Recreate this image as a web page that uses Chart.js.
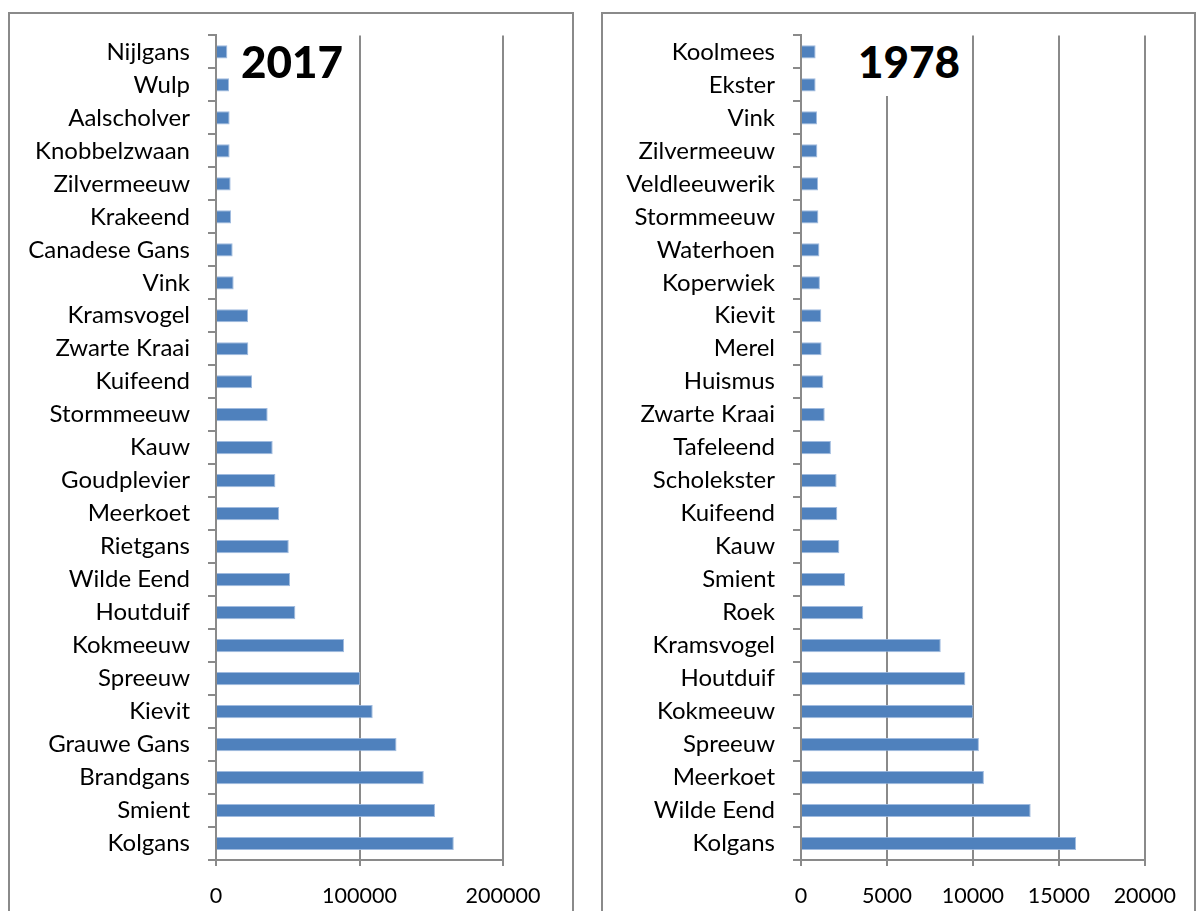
<!DOCTYPE html>
<html>
<head>
<meta charset="utf-8">
<script src="https://cdn.jsdelivr.net/npm/chart.js@4/dist/chart.umd.min.js"></script>
<style>
  html, body { margin: 0; padding: 0; background: #fff; width: 1200px; height: 911px; overflow: hidden; }
  .frame { position: absolute; box-sizing: border-box; border: 2px solid #8a8a8a; background: #fff; }
  canvas { position: absolute; }
  .ttl { position: absolute; font-family: Lato, sans-serif; font-weight: 900; font-size: 44px; line-height: 1; color: #000; white-space: nowrap; }
</style>
</head>
<body>
<div class="frame" style="left:8px; top:12px; width:566px; height:930px;"></div>
<div class="frame" style="left:601px; top:12px; width:595px; height:930px;"></div>
<canvas id="c2017" width="560" height="907" style="left:11px; top:3px;"></canvas>
<canvas id="c1978" width="589" height="907" style="left:604px; top:3px;"></canvas>
<div class="ttl" style="left:241px; top:39px;">2017</div>
<div class="ttl" style="left:846px; top:28px; height:68px; padding:11px 8px 0 12px; box-sizing:border-box; background:#fff;">1978</div>
<script>
// ---- data ----
const labels2017 = ["Nijlgans","Wulp","Aalscholver","Knobbelzwaan","Zilvermeeuw","Krakeend","Canadese Gans","Vink","Kramsvogel","Zwarte Kraai","Kuifeend","Stormmeeuw","Kauw","Goudplevier","Meerkoet","Rietgans","Wilde Eend","Houtduif","Kokmeeuw","Spreeuw","Kievit","Grauwe Gans","Brandgans","Smient","Kolgans"];
const values2017 = [7900,9100,9500,9500,10200,10500,11600,12300,22300,22500,25100,36000,39500,41400,44000,50700,51600,55300,89200,100400,109200,125800,144800,152600,165700];
const ticks2017 = [0, 100000, 200000];

const labels1978 = ["Koolmees","Ekster","Vink","Zilvermeeuw","Veldleeuwerik","Stormmeeuw","Waterhoen","Koperwiek","Kievit","Merel","Huismus","Zwarte Kraai","Tafeleend","Scholekster","Kuifeend","Kauw","Smient","Roek","Kramsvogel","Houtduif","Kokmeeuw","Spreeuw","Meerkoet","Wilde Eend","Kolgans"];
const values1978 = [850,850,930,950,990,1010,1070,1100,1180,1200,1300,1380,1740,2070,2110,2230,2560,3620,8130,9560,10020,10350,10640,13360,16000];
const ticks1978 = [0, 5000, 10000, 15000, 20000];

const YFONT = { family: "Lato, 'DejaVu Sans', sans-serif", size: 24 };
const XFONT = { family: "Lato, 'DejaVu Sans', sans-serif", size: 21.5 };
const GRID = '#8a8a8a';

function makeChart(id, labels, values, tickVals, yWidth, padRight) {
  const step = tickVals[1] - tickVals[0];
  return new Chart(document.getElementById(id), {
    type: 'bar',
    data: {
      labels: labels,
      datasets: [{
        data: values,
        backgroundColor: '#4F81BD',
        borderColor: 'rgba(150,180,220,0.9)',
        borderWidth: 1,
        borderSkipped: 'start',
        barPercentage: 1,
        categoryPercentage: 0.4
      }]
    },
    options: {
      indexAxis: 'y',
      responsive: false,
      animation: false,
      devicePixelRatio: 1,
      layout: { padding: { top: 8, right: padRight, left: 0, bottom: 0 } },
      plugins: { legend: { display: false }, tooltip: { enabled: false }, title: { display: false } },
      scales: {
        x: {
          type: 'linear',
          min: tickVals[0],
          max: tickVals[tickVals.length - 1],
          afterBuildTicks: (s) => { s.ticks = tickVals.map(v => ({ value: v })); },
          ticks: { stepSize: step, color: '#000', font: XFONT, padding: 17, maxRotation: 0, autoSkip: false,
                   callback: (v) => String(v) },
          grid: { color: GRID, lineWidth: 2, tickLength: 6, tickColor: GRID, drawTicks: true },
          border: { display: true, color: GRID, width: 2 },
          afterFit: (s) => { s.height = 50; }
        },
        y: {
          type: 'category',
          ticks: { color: '#000', font: YFONT, padding: 18, autoSkip: false },
          grid: { display: true, drawOnChartArea: false, drawTicks: true, tickLength: 8, tickColor: GRID, lineWidth: 2, offset: true },
          border: { display: true, color: GRID, width: 2 },
          afterFit: (s) => { s.width = yWidth; }
        }
      }
    }
  });
}

makeChart('c2017', labels2017, values2017, ticks2017, 205, 68);
makeChart('c1978', labels1978, values1978, ticks1978, 197, 45);
</script>
</body>
</html>
